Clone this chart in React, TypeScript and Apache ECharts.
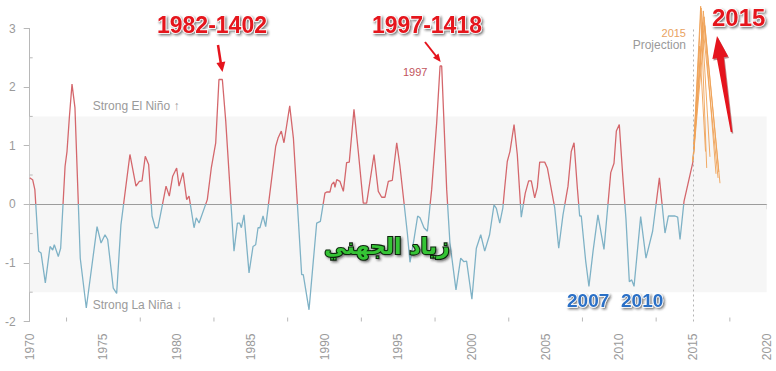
import React, { useEffect, useRef } from "react";
import * as echarts from "echarts";

const yearTicks = [1970, 1975, 1980, 1985, 1990, 1995, 2000, 2005, 2010, 2015, 2020];
const yearMinorTicks = [1972.5, 1977.5, 1982.5, 1987.5, 1992.5, 1997.5, 2002.5, 2007.5, 2012.5, 2017.5];
const valueMinorTicks = [-1.5, -0.5, 0.5, 1.5, 2.5];

const oni1970s = [
  [1970.0, 0.45], [1970.2, 0.42], [1970.35, 0.25], [1970.61, -0.8], [1970.77, -0.83], [1971.06, -1.34],
  [1971.38, -0.72], [1971.56, -0.78], [1971.67, -0.69], [1971.94, -0.89], [1972.1, -0.75], [1972.4, 0.65],
  [1972.53, 0.9], [1972.69, 1.48], [1972.87, 2.05], [1973.07, 1.65], [1973.43, -0.92], [1973.84, -1.77],
  [1974.57, -0.38], [1974.84, -0.66], [1975.11, -0.52], [1975.29, -0.6], [1975.67, -1.43], [1975.9, -1.52],
  [1976.19, -0.35], [1976.8, 0.85], [1977.21, 0.31], [1977.44, 0.39], [1977.62, 0.4], [1977.84, 0.82],
  [1978.07, 0.68], [1978.3, -0.2], [1978.52, -0.4], [1978.7, -0.4], [1979.25, 0.31], [1979.47, 0.14],
  [1979.7, 0.48], [1979.97, 0.62],
];
const oni1980s = [
  [1980.13, 0.31], [1980.4, 0.54], [1980.65, 0.08], [1980.81, 0.14], [1981.15, -0.4], [1981.3, -0.23],
  [1981.49, -0.32], [1982.05, 0.08], [1982.32, 0.62], [1982.62, 1.05], [1982.84, 2.13], [1983.07, 2.13],
  [1983.3, 1.42], [1983.86, -0.8], [1984.09, -0.32], [1984.24, -0.32], [1984.36, -0.4], [1984.54, -0.18],
  [1984.88, -1.17], [1985.15, -0.72], [1985.33, -0.69], [1985.49, -0.4], [1985.62, -0.4], [1985.83, -0.2],
  [1986.01, -0.38], [1986.69, 0.99], [1986.85, 1.13], [1987.07, 1.25], [1987.25, 1.05], [1987.64, 1.68],
  [1987.89, 1.13], [1988.45, -1.2], [1988.56, -1.2], [1988.95, -1.8], [1989.24, -0.97], [1989.47, -0.32],
  [1989.72, -0.29],
];
const oni1990s = [
  [1990.03, 0.19], [1990.15, 0.21], [1990.37, 0.21], [1990.49, 0.34], [1990.64, 0.38], [1990.71, 0.29],
  [1990.83, 0.42], [1991.05, 0.39], [1991.28, 0.22], [1991.5, 0.71], [1991.68, 0.72], [1992.0, 1.62],
  [1992.3, 0.88], [1992.63, 0.02], [1992.86, 0.02], [1993.36, 0.85], [1993.65, 0.22], [1993.88, 0.12],
  [1994.1, 0.12], [1994.33, 0.39], [1994.6, 0.41], [1994.9, 1.05], [1995.12, 0.65], [1995.62, -0.49],
  [1995.8, -0.99], [1996.07, -0.6], [1996.32, -0.2], [1996.48, -0.23], [1996.75, -0.4], [1996.98, -0.46],
  [1997.27, 0.25], [1997.61, 1.39], [1997.84, 2.36], [1997.95, 2.36], [1998.29, 0.25], [1998.51, -0.66],
  [1998.92, -1.46], [1999.24, -0.92], [1999.46, -0.98], [1999.64, -0.97],
];
const oni2000s = [
  [2000.0, -1.62], [2000.3, -0.75], [2000.6, -0.52], [2000.87, -0.8], [2001.2, -0.52], [2001.5, -0.01],
  [2001.66, -0.07], [2001.89, -0.32], [2002.1, -0.06], [2002.22, 0.27], [2002.4, 0.73], [2002.58, 0.9],
  [2002.86, 1.36], [2003.08, 0.85], [2003.35, -0.22], [2003.62, 0.19], [2003.85, 0.4], [2004.03, 0.4],
  [2004.26, 0.11], [2004.44, 0.29], [2004.6, 0.72], [2004.94, 0.72], [2005.12, 0.62], [2005.62, -0.06],
  [2005.89, -0.75], [2006.18, -0.18], [2006.52, 0.31], [2006.74, 0.9], [2006.93, 1.05], [2007.15, 0.29],
  [2007.31, -0.2], [2007.42, -0.2], [2007.72, -0.97], [2007.94, -1.4], [2008.22, -0.8], [2008.55, -0.18],
  [2008.96, -0.77], [2009.42, 0.54], [2009.64, 0.7], [2009.8, 1.25],
];
const oni2010s = [
  [2010.0, 1.36], [2010.23, 0.5], [2010.45, -0.24], [2010.68, -1.32], [2010.84, -1.29], [2011.0, -1.4],
  [2011.45, -0.21], [2011.81, -0.92], [2012.26, -0.46], [2012.72, 0.45], [2013.1, -0.49], [2013.33, -0.2],
  [2013.78, -0.2], [2013.96, -0.22], [2014.12, -0.6], [2014.39, 0.05], [2015.0, 0.73],
];

const projection1 = [[2015.0, 0.73], [2015.52, 3.38], [2015.93, 0.62]];
const projection2 = [[2015.0, 0.73], [2015.55, 3.35], [2016.15, 0.81]];
const projection3 = [[2015.0, 0.73], [2015.7, 3.3], [2016.56, 0.52]];
const projection4 = [[2015.0, 0.73], [2015.75, 3.2], [2016.83, 0.36]];
const projection5 = [[2015.0, 0.73], [2015.65, 3.1], [2016.7, 0.45]];
const projection6 = [[2015.0, 0.73], [2015.8, 3.05], [2016.75, 0.55]];
const projection7 = [[2015.0, 0.73], [2015.45, 2.7], [2015.85, 0.9]];
const projections = [projection1, projection2, projection3, projection4, projection5, projection6, projection7];

const bandLow = -1.5;
const bandHigh = 1.5;
const projectionStart = 2015;

const RED = "#d4676c";
const BLUE = "#7fb2c6";
const ORANGE = "#f0a257";
const AXIS = "#b8b8b8";
const FONT = "'Liberation Sans', Arial, sans-serif";

function arrowHead(tip: number[], from: number[], len: number, half: number) {
  const dx = tip[0] - from[0];
  const dy = tip[1] - from[1];
  const l = Math.hypot(dx, dy);
  const ux = dx / l, uy = dy / l;
  const bx = tip[0] - ux * len, by = tip[1] - uy * len;
  const px = -uy, py = ux;
  return [tip, [bx + px * half, by + py * half], [bx - px * half, by - py * half]];
}

function bigArrow(tip: number[], base: number[], headLen: number, headHalf: number, shaftTop: number, shaftBottom: number) {
  const dx = tip[0] - base[0];
  const dy = tip[1] - base[1];
  const l = Math.hypot(dx, dy);
  const ux = dx / l, uy = dy / l;
  const px = -uy, py = ux;
  const hb = [tip[0] - ux * headLen, tip[1] - uy * headLen];
  return [
    tip,
    [hb[0] + px * headHalf, hb[1] + py * headHalf],
    [hb[0] + px * shaftTop, hb[1] + py * shaftTop],
    [base[0] + px * shaftBottom, base[1] + py * shaftBottom],
    [base[0] - px * shaftBottom, base[1] - py * shaftBottom],
    [hb[0] - px * shaftTop, hb[1] - py * shaftTop],
    [hb[0] - px * headHalf, hb[1] - py * headHalf],
  ];
}

function shadowedText(text: string, x: number, y: number, font: string, fill: string, stroke: string, strokeW: number, align = "left") {
  return {
    type: "text",
    x,
    y,
    z: 100,
    style: {
      text,
      font,
      fill,
      stroke,
      lineWidth: strokeW,
      textAlign: align,
      textVerticalAlign: "middle",
      textShadowColor: "rgba(30,30,30,0.6)",
      textShadowBlur: 2,
      textShadowOffsetX: 1.5,
      textShadowOffsetY: 1.5,
      shadowColor: "rgba(30,30,30,0.6)",
      shadowBlur: 2,
      shadowOffsetX: 1.5,
      shadowOffsetY: 1.5,
    },
  };
}

export default function App() {
  const ref = useRef<HTMLDivElement>(null);
  useEffect(() => {
    if (!ref.current) return;
    const chart = echarts.init(ref.current, undefined, { renderer: "svg" });
    const history = [...oni1970s, ...oni1980s, ...oni1990s, ...oni2000s, ...oni2010s];
    const vals = history.map((d) => d[1]);
    const vMax = Math.max(...vals);
    const vMin = Math.min(...vals);
    const zeroStop = vMax / (vMax - vMin);
    const lineColor = new echarts.graphic.LinearGradient(0, 0, 0, 1, [
      { offset: 0, color: RED },
      { offset: zeroStop, color: RED },
      { offset: zeroStop, color: BLUE },
      { offset: 1, color: BLUE },
    ]);
    const redFont = `bold 23px ${FONT}`;
    chart.setOption({
      animation: false,
      backgroundColor: "#ffffff",
      grid: { left: 29.7, right: 9.3, top: 28.5, bottom: 49.5, containLabel: false },
      xAxis: {
        type: "value",
        min: 1970,
        max: 2020,
        interval: 5,
        axisLine: { show: true, lineStyle: { color: AXIS, width: 1 } },
        axisTick: { show: true, length: 5, lineStyle: { color: AXIS } },
        axisLabel: {
          rotate: 90,
          color: "#9a9a9a",
          fontSize: 12,
          fontFamily: FONT,
          margin: 12,
          formatter: (v: number) => (yearTicks.includes(v) ? String(v) : ""),
        },
        splitLine: { show: false },
      },
      yAxis: {
        type: "value",
        min: -2,
        max: 3,
        interval: 1,
        axisLine: { show: true, lineStyle: { color: AXIS, width: 1 } },
        axisTick: { show: true, length: 6, lineStyle: { color: AXIS } },
        axisLabel: { color: "#9a9a9a", fontSize: 12, fontFamily: FONT, margin: 14 },
        splitLine: { show: false },
      },
      series: [
        {
          type: "line",
          data: history,
          symbol: "none",
          lineStyle: { width: 1.3, color: lineColor },
          z: 5,
          markArea: {
            silent: true,
            itemStyle: { color: "#f6f6f6" },
            data: [[{ yAxis: bandLow }, { yAxis: bandHigh }]],
          },
          markLine: {
            silent: true,
            symbol: "none",
            label: { show: false },
            data: [
              { yAxis: 0, lineStyle: { color: "#9c9c9c", width: 1, type: "solid" } },
              { xAxis: projectionStart, lineStyle: { color: "#b5b5b5", width: 1, type: [2, 3] } },
            ],
          },
        },
        ...projections.map((p) => ({
          type: "line",
          data: p,
          symbol: "none",
          clip: false,
          lineStyle: { width: 1, color: ORANGE, opacity: 0.9 },
          z: 4,
        })),
        {
          type: "custom",
          silent: true,
          clip: false,
          data: yearMinorTicks.map((v) => [v, -2]),
          renderItem: (_p: any, api: any) => {
            const pt = api.coord([api.value(0), api.value(1)]);
            return { type: "line", shape: { x1: pt[0], y1: pt[1], x2: pt[0], y2: pt[1] - 4 }, style: { stroke: AXIS, lineWidth: 1 } };
          },
        },
        {
          type: "custom",
          silent: true,
          clip: false,
          data: valueMinorTicks.map((v) => [1970, v]),
          renderItem: (_p: any, api: any) => {
            const pt = api.coord([api.value(0), api.value(1)]);
            return { type: "line", shape: { x1: pt[0], y1: pt[1], x2: pt[0] + 3, y2: pt[1] }, style: { stroke: AXIS, lineWidth: 1 } };
          },
        },
      ],
      graphic: [
        { type: "text", x: 92.7, y: 106, style: { text: "Strong El Niño ↑", font: `12px ${FONT}`, fill: "#9a9a9a", textVerticalAlign: "middle" } },
        { type: "text", x: 92.7, y: 305, style: { text: "Strong La Niña ↓", font: `12px ${FONT}`, fill: "#9a9a9a", textVerticalAlign: "middle" } },
        { type: "text", x: 403, y: 72, style: { text: "1997", font: `11px ${FONT}`, fill: "#c2545d", textVerticalAlign: "middle" } },
        { type: "text", x: 686, y: 33, style: { text: "2015", font: `11px ${FONT}`, fill: "#e9a260", textAlign: "right", textVerticalAlign: "middle" } },
        { type: "text", x: 686, y: 45, style: { text: "Projection", font: `12px ${FONT}`, fill: "#9a9a9a", textAlign: "right", textVerticalAlign: "middle" } },
        shadowedText("1982-1402", 157, 25, redFont, "#e5141d", "#ffffff", 1.5),
        shadowedText("1997-1418", 372, 25, redFont, "#e5141d", "#ffffff", 1.5),
        shadowedText("2015", 712, 17, `bold 24px ${FONT}`, "#e5141d", "#ffffff", 1.5),
        shadowedText("2007", 567, 300, `bold 19px ${FONT}`, "#2b6fc6", "#ffffff", 1.5),
        shadowedText("2010", 621, 300, `bold 19px ${FONT}`, "#2b6fc6", "#ffffff", 1.5),
        shadowedText("زياد الجهني", 387, 246, `bold 22px 'DejaVu Sans', sans-serif`, "#36c436", "#0c250c", 2.2, "center"),
        { type: "line", z: 100, shape: { x1: 218, y1: 45, x2: 220.8, y2: 63 }, style: { stroke: "#e5141d", lineWidth: 2.5 } },
        { type: "polygon", z: 100, shape: { points: arrowHead([222.5, 72], [218, 45], 10, 4.5) }, style: { fill: "#e5141d" } },
        { type: "line", z: 100, shape: { x1: 425, y1: 42, x2: 436, y2: 56 }, style: { stroke: "#e5141d", lineWidth: 2 } },
        { type: "polygon", z: 100, shape: { points: arrowHead([440.7, 62], [425, 42], 8, 3.5) }, style: { fill: "#e5141d" } },
        {
          type: "polygon",
          z: 99,
          shape: { points: bigArrow([718, 37.5], [732.5, 133.5], 22, 8, 3.5, 0.8) },
          style: { fill: "rgba(110,0,0,0.45)" },
        },
        {
          type: "polygon",
          z: 100,
          shape: { points: bigArrow([717, 36], [731.5, 132], 22, 8, 3.5, 0.8) },
          style: { fill: "#e5141d" },
        },
      ],
    });
    return () => chart.dispose();
  }, []);
  return <div ref={ref} style={{ position: "fixed", left: 0, top: 0, width: 776, height: 371 }} />;
}
